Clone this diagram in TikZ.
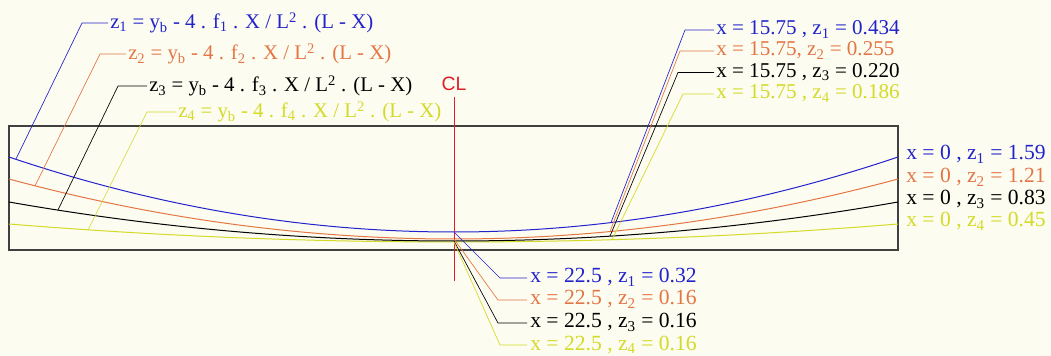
\documentclass[tikz,border=0pt]{standalone}
\usepackage{fontspec}
\setmainfont{Liberation Serif}
\newfontfamily\clfont{Liberation Sans}
\usetikzlibrary{calc}
\definecolor{cblue}{RGB}{35,35,205}
\definecolor{corange}{RGB}{228,118,70}
\definecolor{cyel}{RGB}{212,218,40}
\definecolor{cred}{RGB}{225,30,40}
\definecolor{cbg}{RGB}{252,252,240}
\newcommand{\sbs}[1]{\textsubscript{#1}}
\newcommand{\sps}[1]{\textsuperscript{#1}}
\begin{document}
\begin{tikzpicture}[x=0.75pt,y=-0.75pt,
  lab/.style={anchor=base west,inner sep=0pt,font=\fontsize{16.2}{19}\selectfont},
  tlab/.style={anchor=base west,inner sep=0pt,font=\fontsize{15.8}{19}\selectfont},
  eqlab/.style={anchor=base west,inner sep=0pt,font=\fontsize{15.6}{19}\selectfont},
  curve/.style={line width=0.75pt},
  leader/.style={line width=0.5pt}]
\fill[cbg] (0,0) rectangle (1051,356);
\useasboundingbox (0,0) rectangle (1051,356);
% frame
\draw[line width=0.8pt,black!75] (9,126) rectangle (898,250);
% curves
\draw[curve,cyel] plot[domain=9:898,samples=120] (\x,{242-18*((\x-453.5)/444.5)^2});
\draw[curve,black] plot[domain=9:898,samples=120] (\x,{241-39*((\x-453.5)/444.5)^2});
\draw[curve,corange] plot[domain=9:898,samples=120] (\x,{239-60*((\x-453.5)/444.5)^2});
\draw[curve,cblue] plot[domain=9:898,samples=120] (\x,{232-75*((\x-453.5)/444.5)^2});
% CL
\draw[cred,line width=0.6pt] (454,97) -- (454,281);
\node[inner sep=0pt,text=cred,font=\clfont\fontsize{14.5}{16}\selectfont] (cl) at (454,84) {CL};
% curve points
\coordinate (l1) at (16,159);
\coordinate (l2) at (35,186);
\coordinate (l3) at (58,210);
\coordinate (l4) at (88,230);
\coordinate (r1) at (611,222.6);
\coordinate (r2) at (610,231.5);
\coordinate (r3) at (610,236.1);
\coordinate (r4) at (612,239.7);
\coordinate (m1) at (454,232);
\coordinate (m2) at (454,239);
\coordinate (m3) at (454,241);
\coordinate (m4) at (454,242);
% left equations
\node[eqlab,text=cblue] (e1) at (110,29) {z\sbs{1} = y\sbs{b} - 4 . f\sbs{1} . X / L\sps{2} . (L - X)};
\node[eqlab,text=corange] (e2) at (128,60) {z\sbs{2} = y\sbs{b} - 4 . f\sbs{2} . X / L\sps{2} . (L - X)};
\node[eqlab,text=black] (e3) at (149,92) {z\sbs{3} = y\sbs{b} - 4 . f\sbs{3} . X / L\sps{2} . (L - X)};
\node[eqlab,text=cyel] (e4) at (178,118) {z\sbs{4} = y\sbs{b} - 4 . f\sbs{4} . X / L\sps{2} . (L - X)};
\draw[leader,cblue] (l1) -- (82,23) -- ($(e1.base west)+(-2,-6)$);
\draw[leader,corange] (l2) -- (100,54) -- ($(e2.base west)+(-2,-6)$);
\draw[leader,black] (l3) -- (118,86) -- ($(e3.base west)+(-2,-6)$);
\draw[leader,cyel] (l4) -- (147,112) -- ($(e4.base west)+(-2,-6)$);
% top right labels
\node[tlab,text=cblue] (t1) at (716,35) {x = 15.75 , z\sbs{1} = 0.434};
\node[tlab,text=corange] (t2) at (716,56) {x = 15.75, z\sbs{2} = 0.255};
\node[tlab,text=black] (t3) at (716,77.5) {x = 15.75 , z\sbs{3} = 0.220};
\node[tlab,text=cyel] (t4) at (716,99) {x = 15.75 , z\sbs{4} = 0.186};
\draw[leader,cblue] (r1) -- (685,30) -- ($(t1.base west)+(-2,-5)$);
\draw[leader,corange] (r2) -- (680,51) -- ($(t2.base west)+(-2,-5)$);
\draw[leader,black] (r3) -- (678,72.5) -- ($(t3.base west)+(-2,-5)$);
\draw[leader,cyel] (r4) -- (683,94) -- ($(t4.base west)+(-2,-5)$);
% right labels
\node[lab,text=cblue] (s1) at (906,160) {x = 0 , z\sbs{1} = 1.59};
\node[lab,text=corange] (s2) at (906,183) {x = 0 , z\sbs{2} = 1.21};
\node[lab,text=black] (s3) at (906,205) {x = 0 , z\sbs{3} = 0.83};
\node[lab,text=cyel] (s4) at (906,227) {x = 0 , z\sbs{4} = 0.45};
% bottom labels
\node[lab,text=cblue] (b1) at (530,283) {x = 22.5 , z\sbs{1} = 0.32};
\node[lab,text=corange] (b2) at (530,305) {x = 22.5 , z\sbs{2} = 0.16};
\node[lab,text=black] (b3) at (530,328) {x = 22.5 , z\sbs{3} = 0.16};
\node[lab,text=cyel] (b4) at (530,350) {x = 22.5 , z\sbs{4} = 0.16};
\draw[leader,cblue] (m1) -- (500,278) -- ($(b1.base west)+(-3,-5)$);
\draw[leader,corange] (m2) -- (498,300) -- ($(b2.base west)+(-3,-5)$);
\draw[leader,black] (m3) -- (498,323) -- ($(b3.base west)+(-3,-5)$);
\draw[leader,cyel] (m4) -- (500,345) -- ($(b4.base west)+(-3,-5)$);
\end{tikzpicture}
\end{document}
